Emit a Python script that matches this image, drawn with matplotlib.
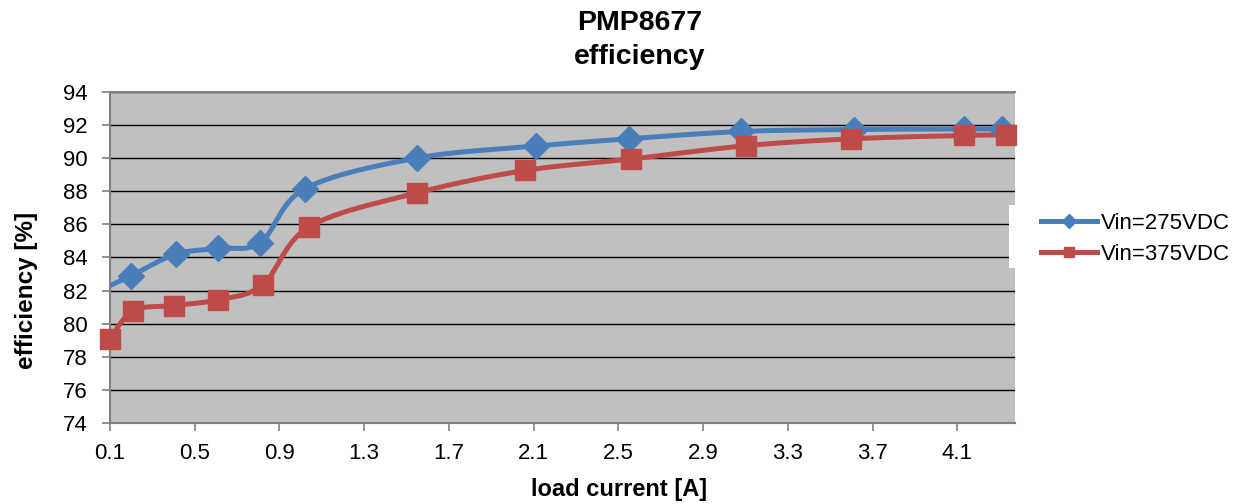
import numpy as np
import matplotlib.pyplot as plt
from matplotlib.patches import Rectangle

plt.rcParams['font.family'] = ['Liberation Sans', 'DejaVu Sans']

# measured points (load current [A], efficiency [%])
i_275 = [0.05, 0.20, 0.41, 0.61, 0.81, 1.02, 1.55, 2.11, 2.55, 3.08, 3.61, 4.13, 4.31]
eff_275 = [82.0, 82.9, 84.2, 84.55, 84.9, 88.15, 90.0, 90.72, 91.16, 91.6, 91.72, 91.75, 91.75]

i_375 = [0.10, 0.21, 0.40, 0.61, 0.82, 1.04, 1.55, 2.06, 2.56, 3.10, 3.60, 4.13, 4.33]
eff_375 = [79.1, 80.8, 81.1, 81.45, 82.35, 85.85, 87.9, 89.25, 89.94, 90.74, 91.16, 91.36, 91.4]

labels = ['Vin=275VDC', 'Vin=375VDC']
colors = ['#4A7EBB', '#BE4B48']
markers = ['D', 's']
msizes = [13, 14]

x_min, x_max = 0.1, 4.372


def smooth(x, y, n=30):
    # Catmull-Rom style smoothing like the spreadsheet "smoothed line"
    x = np.asarray(x, float)
    y = np.asarray(y, float)
    px = np.concatenate([[x[0]], x, [x[-1]]])
    py = np.concatenate([[y[0]], y, [y[-1]]])
    xs, ys = [], []
    t = np.linspace(0, 1, n)
    for k in range(1, len(px) - 2):
        p0 = np.array([px[k - 1], py[k - 1]])
        p1 = np.array([px[k], py[k]])
        p2 = np.array([px[k + 1], py[k + 1]])
        p3 = np.array([px[k + 2], py[k + 2]])
        c1 = p1 + (p2 - p0) / 6
        c2 = p2 - (p3 - p1) / 6
        seg = ((1 - t)[:, None] ** 3 * p1 + 3 * ((1 - t) ** 2 * t)[:, None] * c1
               + 3 * ((1 - t) * t ** 2)[:, None] * c2 + (t ** 3)[:, None] * p2)
        xs.extend(seg[:, 0])
        ys.extend(seg[:, 1])
    return np.array(xs), np.array(ys)


fig = plt.figure(figsize=(12.46, 5.04), dpi=100)
ax = fig.add_axes([110 / 1246, 1 - 423.3 / 504, 905 / 1246, 331.6 / 504])
ax.set_facecolor('#C0C0C0')

for xs, ys, lab, c, m, ms in zip([i_275, i_375], [eff_275, eff_375], labels, colors, markers, msizes):
    sx, sy = smooth(xs, ys)
    ax.plot(sx, sy, color=c, lw=3.6, solid_capstyle='round', zorder=3)
    xa, ya = np.array(xs), np.array(ys)
    keep = xa >= x_min
    ax.plot(xa[keep], ya[keep], linestyle='none', marker=m, ms=ms, color=c, zorder=4, clip_on=False)
    ax.plot([], [], color=c, lw=3.6, marker=m, ms=ms * 0.55, label=lab)

ax.set_xlim(x_min, x_max)
ax.set_ylim(74, 94)
ax.set_xticks(np.arange(0.1, 4.2, 0.4))
ax.set_xticklabels(['%.1f' % v for v in np.arange(0.1, 4.2, 0.4)])
ax.set_yticks(range(74, 95, 2))
ax.yaxis.grid(True, color='black', lw=1.0)
ax.set_axisbelow(True)
ax.spines['right'].set_visible(False)
for s in ['left', 'bottom', 'top']:
    ax.spines[s].set_color('#808080')
    ax.spines[s].set_linewidth(1.5)
ax.tick_params(axis='both', labelsize=16, colors='#808080', labelcolor='black',
               length=6, width=1.2, direction='out')
ax.tick_params(axis='x', pad=8)
ax.tick_params(axis='y', pad=10)

ax.set_xlabel('load current [A]', fontsize=17, fontweight='bold')
ax.xaxis.set_label_coords(0.5625, -0.166)
ax.set_ylabel('efficiency [%]', fontsize=17.5, fontweight='bold')
ax.yaxis.set_label_coords(-0.08, 0.40)
fig.text(640 / 1246, 1 - 40 / 504, 'PMP8677\nefficiency', fontsize=20.5, fontweight='bold',
         ha='center', va='center', linespacing=1.4)

# white legend background, slightly over the plot edge
fig.patches.append(Rectangle((1009 / 1246, 1 - 268 / 504), 237 / 1246, 63 / 504,
                             transform=fig.transFigure, facecolor='white', edgecolor='none',
                             zorder=5))
leg = fig.legend(loc='center left', bbox_to_anchor=(1041 / 1246, 1 - 239 / 504),
                 bbox_transform=fig.transFigure, frameon=False, fontsize=16,
                 handlelength=2.5, handletextpad=0.2, borderpad=0, borderaxespad=0,
                 labelspacing=0.45)
leg.set_zorder(6)

fig.savefig('out.png', dpi=100)
